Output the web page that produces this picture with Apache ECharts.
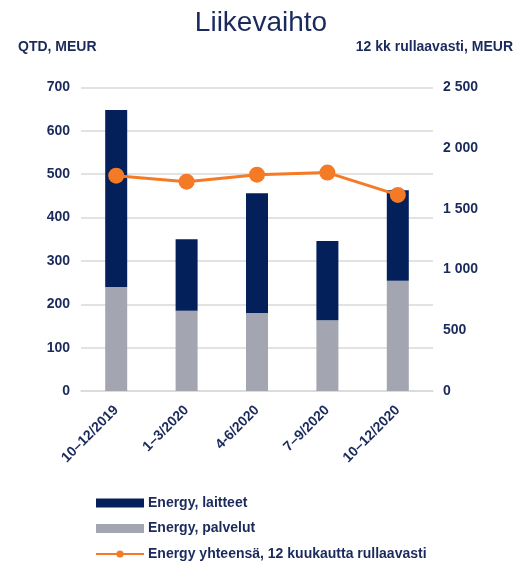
<!DOCTYPE html>
<html><head><meta charset="utf-8">
<script src="https://cdn.jsdelivr.net/npm/echarts@6/dist/echarts.min.js"></script>
<style>html,body{margin:0;padding:0;background:#fff}#c{width:522px;height:565px}</style>
</head><body><div id="c"></div>
<script>
const categories = ['10–12/2019', '1–3/2020', '4-6/2020', '7–9/2020', '10–12/2020'];
const laitteet = [408, 165, 276, 183, 209];
const palvelut = [240, 185, 180, 163, 254];
const yhteensa12kk = [1774, 1724, 1782, 1799, 1615];
const leftTicks = { min: 0, max: 700, interval: 100 };
const rightTicks = { min: 0, max: 2500, interval: 500 };

const navy = '#03205a';
const txt = '#1b2a5c';
const gray = '#a3a6b0';
const orange = '#f57a26';
const font = 'Liberation Sans';

const chart = echarts.init(document.getElementById('c'));
chart.setOption({
  animation: false,
  title: [
    { text: 'Liikevaihto', left: 'center', top: 4,
      textStyle: { fontFamily: font, fontSize: 28, fontWeight: 'normal', color: txt } },
    { text: 'QTD, MEUR', left: 13, top: 35,
      textStyle: { fontFamily: font, fontSize: 14, fontWeight: 'bold', color: txt } },
    { text: '12 kk rullaavasti, MEUR', right: 4, top: 35,
      textStyle: { fontFamily: font, fontSize: 14, fontWeight: 'bold', color: txt } }
  ],
  grid: { left: 81, right: 89, top: 87.5, bottom: 174 },
  legend: {
    orient: 'vertical', left: 95, top: 496, height: 69, padding: 0,
    itemWidth: 48, itemHeight: 9, itemGap: 11.5,
    data: [
      { name: 'Energy, laitteet', icon: 'rect' },
      { name: 'Energy, palvelut', icon: 'rect' },
      { name: 'Energy yhteensä, 12 kuukautta rullaavasti' }
    ],
    textStyle: { fontFamily: font, fontSize: 14, fontWeight: 'bold', color: txt, padding: [0,0,0,-1] }
  },
  xAxis: {
    type: 'category', data: categories,
    axisLine: { lineStyle: { color: '#d9d9d9', width: 1.5 } },
    axisTick: { show: false },
    axisLabel: { rotate: 45, margin: 17, fontFamily: font, fontSize: 14, fontWeight: 'bold', color: txt }
  },
  yAxis: [
    { type: 'value', min: leftTicks.min, max: leftTicks.max, interval: leftTicks.interval,
      axisLabel: { margin: 11, fontFamily: font, fontSize: 14, fontWeight: 'bold', color: txt },
      splitLine: { lineStyle: { color: '#d9d9d9', width: 1.5 } } },
    { type: 'value', min: rightTicks.min, max: rightTicks.max, interval: rightTicks.interval,
      axisLabel: { margin: 10, fontFamily: font, fontSize: 14, fontWeight: 'bold', color: txt,
        formatter: v => String(v).replace(/\B(?=(\d{3})+(?!\d))/g, ' ') },
      splitLine: { show: false } }
  ],
  series: [
    { name: 'Energy, palvelut', type: 'bar', stack: 'q', data: palvelut, barWidth: 22,
      itemStyle: { color: gray } },
    { name: 'Energy, laitteet', type: 'bar', stack: 'q', data: laitteet, barWidth: 22,
      itemStyle: { color: navy } },
    { name: 'Energy yhteensä, 12 kuukautta rullaavasti', type: 'line', yAxisIndex: 1,
      data: yhteensa12kk, symbol: 'circle', symbolSize: 16,
      lineStyle: { color: orange, width: 3 }, itemStyle: { color: orange } }
  ]
});
</script></body></html>
